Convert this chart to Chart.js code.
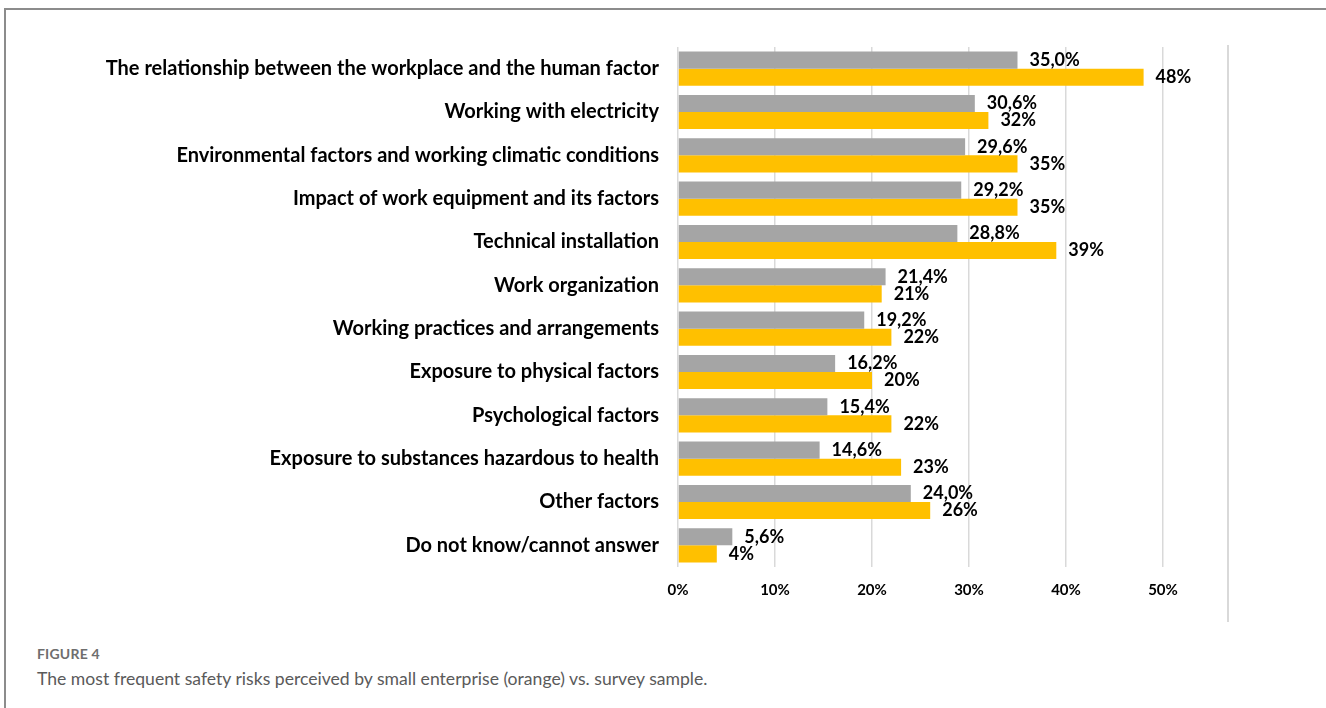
<!DOCTYPE html>
<html>
<head>
<meta charset="utf-8">
<script src="https://cdn.jsdelivr.net/npm/chart.js@4.4.1/dist/chart.umd.min.js"></script>
<style>
  html, body { margin: 0; padding: 0; background: #fff; }
  body { width: 1326px; height: 708px; position: relative; overflow: hidden; }
  #frame { position: absolute; left: 4px; top: 8px; width: 1330px; height: 710px;
           border-top: 2px solid #8c8c8c; border-left: 2px solid #8c8c8c; }
  #wrap { position: absolute; left: 0; top: 0; width: 1326px; height: 630px; }
  #fig { position: absolute; left: 37px; top: 645px; font-family: Lato, "Open Sans", sans-serif;
         font-size: 14px; font-weight: bold; color: #6e6e6e; letter-spacing: 0.2px; }
  #cap { position: absolute; left: 37px; top: 668px; font-family: Lato, "Open Sans", sans-serif;
         font-size: 17.6px; color: #5a5a5a; }
</style>
</head>
<body>
<div id="frame"></div>
<div id="wrap"><canvas id="c" width="1326" height="630"></canvas></div>
<div id="fig">FIGURE 4</div>
<div id="cap">The most frequent safety risks perceived by small enterprise (orange) vs. survey sample.</div>
<script>
const categories = [
  "The relationship between the workplace and the human factor",
  "Working with electricity",
  "Environmental factors and working climatic conditions",
  "Impact of work equipment and its factors",
  "Technical installation",
  "Work organization",
  "Working practices and arrangements",
  "Exposure to physical factors",
  "Psychological factors",
  "Exposure to substances hazardous to health",
  "Other factors",
  "Do not know/cannot answer"
];
const surveySample = [35.0, 30.6, 29.6, 29.2, 28.8, 21.4, 19.2, 16.2, 15.4, 14.6, 24.0, 5.6];
const smallEnterprise = [48, 32, 35, 35, 39, 21, 22, 20, 22, 23, 26, 4];
const xTicks = [0, 10, 20, 30, 40, 50];

const labelPlugin = {
  id: 'barLabels',
  afterDatasetsDraw(chart) {
    const ctx = chart.ctx;
    ctx.save();
    ctx.font = 'bold 18px Lato, "Open Sans", sans-serif';
    ctx.fillStyle = '#000';
    ctx.textBaseline = 'middle';
    ctx.textAlign = 'left';
    chart.data.datasets.forEach((ds, di) => {
      const meta = chart.getDatasetMeta(di);
      meta.data.forEach((bar, i) => {
        const v = ds.data[i];
        const txt = di === 0 ? v.toFixed(1).replace('.', ',') + '%' : v + '%';
        ctx.fillText(txt, bar.x + 12, bar.y);
      });
    });
    ctx.restore();
  }
};

const framePlugin = {
  id: 'rightLine',
  beforeDraw(chart) {
    const ctx = chart.ctx;
    ctx.save();
    ctx.strokeStyle = '#d9d9d9';
    ctx.lineWidth = 2;
    ctx.beginPath();
    ctx.moveTo(1228, 45);
    ctx.lineTo(1228, 622);
    ctx.stroke();
    ctx.restore();
  }
};

new Chart(document.getElementById('c'), {
  type: 'bar',
  data: {
    labels: categories,
    datasets: [
      { label: 'Survey sample', data: surveySample, backgroundColor: '#a5a5a5',
        categoryPercentage: 0.79, barPercentage: 1.0 },
      { label: 'Small enterprise', data: smallEnterprise, backgroundColor: '#ffc000',
        categoryPercentage: 0.79, barPercentage: 1.0 }
    ]
  },
  options: {
    indexAxis: 'y',
    responsive: false,
    animation: false,
    layout: { padding: { left: 0, right: 163, top: 47, bottom: 0 } },
    plugins: { legend: { display: false }, tooltip: { enabled: false } },
    scales: {
      x: {
        min: 0, max: 50,
        afterFit(s) { s.height = 63; },
        afterBuildTicks(s) { s.ticks = xTicks.map(v => ({ value: v })); },
        grid: { color: '#d9d9d9', lineWidth: 1.5, drawTicks: false },
        border: { display: false },
        ticks: { padding: 14, color: '#000', font: { family: 'Lato, "Open Sans", sans-serif', size: 15, weight: 'bold' },
                 callback: v => v + '%' }
      },
      y: {
        afterFit(s) { s.width = 678; },
        grid: { display: false, drawTicks: false },
        border: { display: false },
        ticks: { padding: 19, color: '#000', font: { family: 'Lato, "Open Sans", sans-serif', size: 20, weight: 'bold' } }
      }
    }
  },
  plugins: [labelPlugin, framePlugin]
});
</script>
</body>
</html>
